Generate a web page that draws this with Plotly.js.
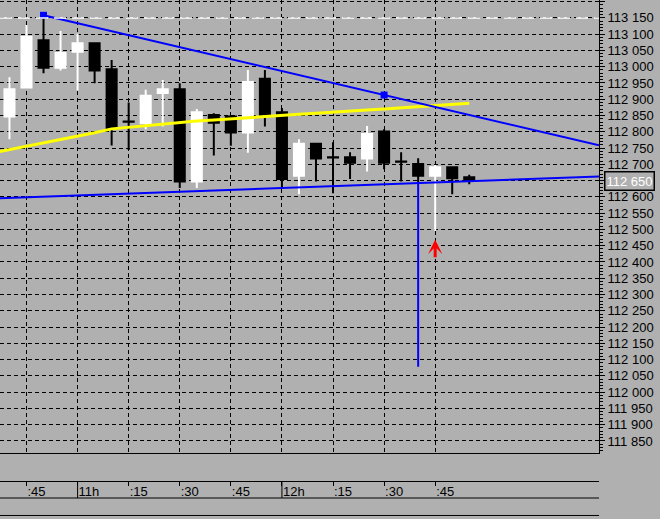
<!DOCTYPE html>
<html><head><meta charset="utf-8">
<script src="https://cdn.plot.ly/plotly-3.0.1.min.js"></script>
<style>html,body{margin:0;padding:0;background:#b0b0b0;}#chart{width:660px;height:519px;}</style>
</head><body><div id="chart"></div>
<script>
// ---- data ----
const candleTimes = ["10:40","10:45","10:50","10:55","11:00","11:05","11:10","11:15","11:20","11:25","11:30","11:35","11:40","11:45","11:50","11:55","12:00","12:05","12:10","12:15","12:20","12:25","12:30","12:35","12:40","12:45","12:50","12:55"];
const openPrices  = [112.847,112.936,113.081,112.997,113.046,113.072,112.992,112.832,112.826,112.919,112.931,112.647,112.852,112.847,112.798,112.963,112.860,112.665,112.763,112.722,112.722,112.718,112.801,112.709,112.701,112.665,112.691,112.660];
const highPrices  = [112.968,113.128,113.158,113.110,113.101,113.072,113.021,112.890,112.929,112.959,112.949,112.870,112.857,112.852,112.990,112.990,112.873,112.777,112.765,112.768,112.737,112.818,112.808,112.737,112.719,112.698,112.691,112.668];
const lowPrices   = [112.777,112.936,112.980,112.988,112.927,112.949,112.758,112.744,112.808,112.816,112.627,112.627,112.727,112.757,112.736,112.816,112.630,112.608,112.647,112.611,112.655,112.678,112.685,112.647,112.646,112.496,112.608,112.639];
const closePrices = [112.931,113.092,112.997,113.042,113.072,112.988,112.811,112.831,112.911,112.931,112.647,112.860,112.828,112.798,112.953,112.855,112.655,112.763,112.718,112.721,112.705,112.793,112.705,112.708,112.665,112.691,112.657,112.650];

const maTimes  = ["10:35","10:40","10:45","10:50","10:55","11:00","11:05","11:10","11:15","11:20","11:25","11:30","11:35","11:40","11:45","11:50","11:55","12:00","12:05","12:10","12:15","12:20","12:25","12:30","12:35","12:40","12:45","12:50","12:55"];
const maValues = [112.735,112.745,112.755,112.766,112.776,112.787,112.797,112.809,112.814,112.820,112.825,112.830,112.833,112.836,112.840,112.843,112.846,112.850,112.854,112.857,112.861,112.864,112.867,112.870,112.874,112.877,112.881,112.884,112.888];

const trendTimes = ["10:50","12:30"];
const trendPrices = [113.158, 112.913];
const supportTimes = ["10:40","12:55"];
const supportPrices = [112.597, 112.648];
const spikeTimes = ["12:40","12:40"];
const spikePrices = [112.646, 112.078];
const hLinePrice = 113.150;
const arrowTime = "12:45";
const arrowTipPrice = 112.468;
const arrowTailPrice = 112.410;

const xTickTimes  = ["10:45","11:00","11:15","11:30","11:45","12:00","12:15","12:30","12:45"];
const xTickLabels = [":45","11h",":15",":30",":45","12h",":15",":30",":45"];
const hourTimes = ["11:00","12:00"];

const yTickValues = [111.85,111.90,111.95,112.00,112.05,112.10,112.15,112.20,112.25,112.30,112.35,112.40,112.45,112.50,112.55,112.60,112.65,112.70,112.75,112.80,112.85,112.90,112.95,113.00,113.05,113.10,113.15,113.20];
const yTickLabels = ["111 850","111 900","111 950","112 000","112 050","112 100","112 150","112 200","112 250","112 300","112 350","112 400","112 450","112 500","112 550","112 600","112 650","112 700","112 750","112 800","112 850","112 900","112 950","113 000","113 050","113 100","113 150","113 200"];
const lastPrice = 112.650;
const lastPriceLabel = "112 650";

// ---- helpers ----
const toMin = s => { const [h, m] = s.split(":").map(Number); return (h - 10) * 60 + m; };
const X_MIN = 37.22, X_MAX = 213.1;
const Y_MIN = 111.813, Y_MAX = 113.205;
const BG = "#b0b0b0";
const FONT = "Liberation Sans, Arial, sans-serif";
const FS = 13;

function extend(times, prices, x0, x1) {
  const ta = toMin(times[0]), tb = toMin(times[1]);
  const s = (prices[1] - prices[0]) / (tb - ta);
  return { x: [x0, x1], y: [prices[0] + s * (x0 - ta), prices[0] + s * (x1 - ta)] };
}

const cx = candleTimes.map(toMin);
const trendExt = extend(trendTimes, trendPrices, toMin(trendTimes[0]), X_MAX);
const supportExt = extend(supportTimes, supportPrices, X_MIN - 5, X_MAX + 5);

const traces = [
  {
    type: "candlestick", x: cx,
    open: openPrices, high: highPrices, low: lowPrices, close: closePrices,
    increasing: { line: { color: "#ffffff", width: 2 }, fillcolor: "#ffffff" },
    decreasing: { line: { color: "#000000", width: 2 }, fillcolor: "#000000" },
    whiskerwidth: 0, hoverinfo: "skip", showlegend: false
  },
  { type: "scatter", mode: "lines", x: maTimes.map(toMin), y: maValues,
    line: { color: "#ffff00", width: 3 }, hoverinfo: "skip", showlegend: false },
  { type: "scatter", mode: "lines", x: supportExt.x, y: supportExt.y,
    line: { color: "#0000ff", width: 2 }, hoverinfo: "skip", showlegend: false },
  { type: "scatter", mode: "lines", x: trendExt.x, y: trendExt.y,
    line: { color: "#0000ff", width: 2 }, hoverinfo: "skip", showlegend: false },
  { type: "scatter", mode: "markers", x: trendTimes.map(toMin), y: trendPrices,
    marker: { symbol: "square", size: 7, color: "#0000ff" }, hoverinfo: "skip", showlegend: false },
  { type: "scatter", mode: "lines", x: spikeTimes.map(toMin), y: spikePrices,
    line: { color: "#0000ff", width: 2 }, hoverinfo: "skip", showlegend: false },
  { type: "scatter", mode: "lines", x: cx, y: closePrices, xaxis: "x2", yaxis: "y",
    line: { width: 0, color: "rgba(0,0,0,0)" }, hoverinfo: "skip", showlegend: false }
];

const stripTop = (516 - 481) / 516, stripBot = (516 - 498) / 516;

const shapes = [
  { type: "line", xref: "paper", yref: "y", x0: 0, x1: 1, y0: hLinePrice, y1: hLinePrice,
    line: { color: "#ffffff", width: 1.5, dash: "12px,6px" } },
  { type: "line", xref: "paper", yref: "paper", x0: 0, x1: 1, y0: stripBot, y1: stripBot,
    line: { color: "#000000", width: 1 } },
  { type: "line", xref: "paper", yref: "paper", x0: 0, x1: 1, y0: 0.001, y1: 0.001,
    line: { color: "#000000", width: 1 } }
].concat(hourTimes.map(t => ({ type: "line", xref: "x", yref: "paper",
    x0: toMin(t), x1: toMin(t), y0: stripBot, y1: stripTop, line: { color: "#000000", width: 1 } })));

const layout = {
  width: 660, height: 519,
  margin: { l: 0, r: 61, t: 0, b: 3, pad: 0 },
  paper_bgcolor: BG, plot_bgcolor: BG,
  showlegend: false,
  font: { family: FONT, size: FS, color: "#000000" },
  boxgap: 0.41, boxgroupgap: 0,
  xaxis: {
    type: "linear", range: [X_MIN, X_MAX], autorange: false, anchor: "y",
    rangeslider: { visible: false },
    tickmode: "array", tickvals: xTickTimes.map(toMin), showticklabels: false, ticks: "",
    showgrid: true, gridcolor: "#000000", gridwidth: 1, griddash: "4px,3px",
    showline: true, linecolor: "#000000", linewidth: 1, zeroline: false, fixedrange: true
  },
  xaxis2: {
    type: "linear", range: [X_MIN, X_MAX], autorange: false, overlaying: "x",
    anchor: "free", position: stripTop, side: "bottom",
    tickmode: "array", tickvals: xTickTimes.map(toMin), ticktext: xTickLabels,
    ticks: "outside", ticklen: 4, tickcolor: "#000000", tickwidth: 1,
    ticklabelposition: "outside right", ticklabelstandoff: -2,
    tickfont: { family: FONT, size: FS, color: "#000000" },
    showgrid: false, showline: true, linecolor: "#000000", linewidth: 1, zeroline: false, fixedrange: true
  },
  yaxis: {
    domain: [63 / 516, 1], range: [Y_MIN, Y_MAX], autorange: false, side: "right",
    tickmode: "array", tickvals: yTickValues, ticktext: yTickLabels,
    ticks: "outside", ticklen: 5, tickcolor: "#000000", tickwidth: 1,
    tickfont: { family: FONT, size: FS, color: "#000000" },
    minor: { tickmode: "linear", tick0: 111.85, dtick: 0.01, ticks: "outside", ticklen: 3, tickcolor: "#000000", showgrid: false },
    showgrid: true, gridcolor: "#000000", gridwidth: 1, griddash: "4px,3px",
    showline: true, linecolor: "#000000", linewidth: 1, zeroline: false, fixedrange: true
  },
  shapes: shapes,
  annotations: [
    { xref: "x", yref: "y", x: toMin(arrowTime), y: arrowTipPrice,
      axref: "x", ayref: "y", ax: toMin(arrowTime), ay: arrowTailPrice,
      showarrow: true, arrowhead: 3, arrowsize: 0.8, arrowwidth: 3, arrowcolor: "#ff0000", text: "" },
    { xref: "paper", yref: "y", x: 1, y: lastPrice, xanchor: "left", yanchor: "middle", xshift: 5,
      text: lastPriceLabel, showarrow: false, font: { family: FONT, size: FS, color: "#ffffff" },
      bgcolor: BG, bordercolor: "#000000", borderwidth: 1.5, borderpad: 1 }
  ]
};

Plotly.newPlot("chart", traces, layout, { staticPlot: true, displayModeBar: false });
</script>
</body></html>
